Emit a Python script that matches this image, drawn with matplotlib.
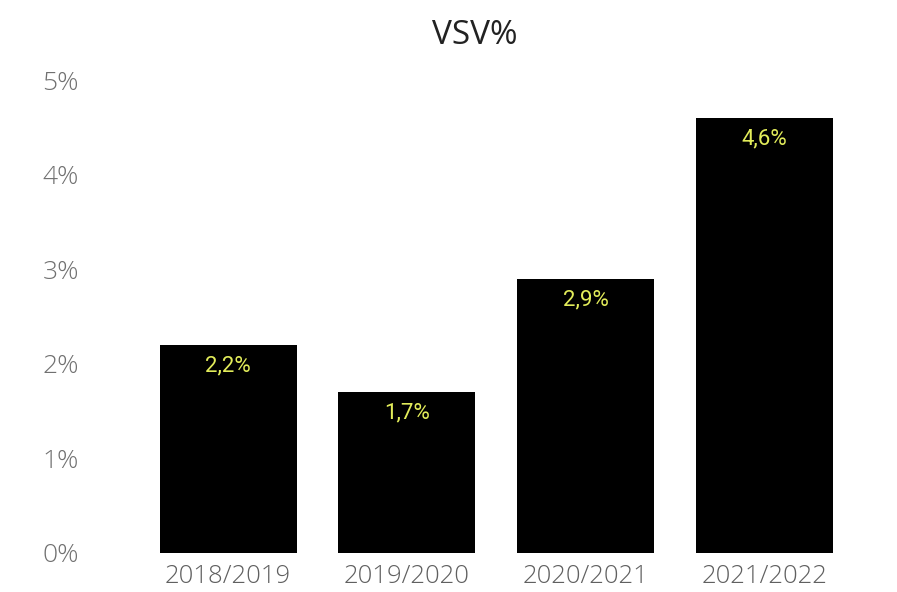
import matplotlib
matplotlib.use("Agg")
import matplotlib.pyplot as plt
from matplotlib.ticker import FuncFormatter

categories = ["2018/2019", "2019/2020", "2020/2021", "2021/2022"]
values = [2.2, 1.7, 2.9, 4.6]
yticks = [0, 1, 2, 3, 4, 5]
title = "VSV%"

fig = plt.figure(figsize=(8.97, 5.92), dpi=100)
ax = fig.add_axes([138.6/897, 39/592, 715.3/897, 473/592])
x = list(range(len(categories)))
ax.bar(x, values, width=0.766, color="black")
ax.set_xlim(-0.5, len(categories) - 0.5)
ax.set_ylim(0, 5)
ax.set_yticks(yticks)
ax.yaxis.set_major_formatter(FuncFormatter(lambda v, p: f"{int(v)}%"))
ax.set_xticks(x)
ax.set_xticklabels(categories)
for s in ax.spines.values():
    s.set_visible(False)
ax.tick_params(axis="y", length=0, pad=43, labelsize=19, labelcolor="#707070")
ax.tick_params(axis="x", length=0, pad=8, labelsize=18.5, labelcolor="#606060")
for lab in ax.get_xticklabels() + ax.get_yticklabels():
    lab.set_fontfamily("Open Sans")
    lab.set_fontweight("light")
for xi, v in zip(x, values):
    ax.annotate(f"{v:.1f}%".replace(".", ","), (xi, v), xytext=(0, -15),
                textcoords="offset points", ha="center", va="center",
                color="#e2ec5a", fontsize=16, fontfamily="Roboto")
fig.text(475/897, 1 - 36/592, title, ha="center", va="center",
         fontsize=24, fontfamily="Open Sans", color="#222222")
fig.savefig("out.png", dpi=100)
